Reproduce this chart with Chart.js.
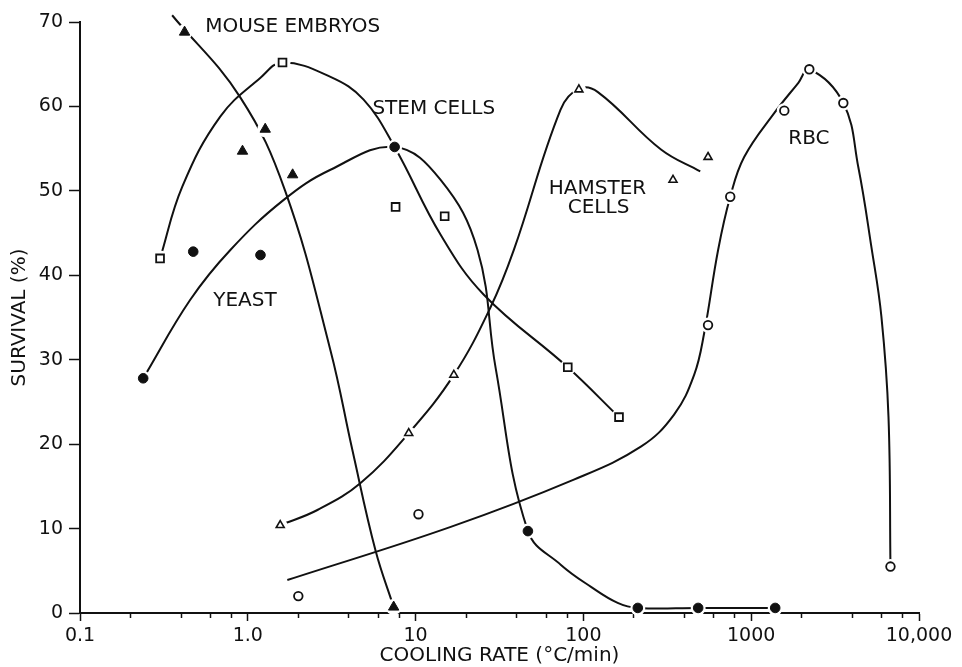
<!DOCTYPE html>
<html>
<head>
<meta charset="utf-8">
<title>Survival vs cooling rate</title>
<script src="https://cdn.jsdelivr.net/npm/chart.js@4.4.1/dist/chart.umd.min.js"></script>
<style>
  html, body { margin: 0; padding: 0; background: #fff; }
  #wrap { width: 962px; height: 667px; position: relative; }
</style>
</head>
<body>
<div id="wrap"><canvas id="chart"></canvas></div>
<script>
const INK = '#111';
const FONT = 'DejaVu Sans';

// axes
const xMajorTicks = [0.1, 1, 10, 100, 1000, 10000];
const xMajorLabels = ['0.1', '1.0', '10', '100', '1000', '10,000'];
const xMinorSteps = [2, 4, 6, 8];
const yTicks = [0, 10, 20, 30, 40, 50, 60, 70];

// measured points: cooling rate (°C/min) and survival (%)
const mouseRate = [0.42, 0.93, 1.27, 1.85, 7.4];
const mouseSurv = [68.8, 54.7, 57.3, 51.9, 0.7];

const stemRate = [0.30, 1.61, 7.6, 14.9, 80.7, 163];
const stemSurv = [42.0, 65.2, 48.1, 47.0, 29.1, 23.2];

const yeastRate = [0.238, 0.473, 1.19, 7.5, 46.7, 211, 483, 1390];
const yeastSurv = [27.8, 42.8, 42.4, 55.2, 9.7, 0.6, 0.6, 0.6];

const hamsterRate = [1.56, 9.1, 16.9, 94, 342, 553];
const hamsterSurv = [10.4, 21.3, 28.2, 62.0, 51.3, 54.0];

const rbcRate = [2.0, 10.4, 553, 750, 1575, 2220, 3540, 6760];
const rbcSurv = [2.0, 11.7, 34.1, 49.3, 59.5, 64.4, 60.4, 5.5];

// freehand curves drawn through each set
const mouseCurveRate = [0.354, 0.90, 1.67, 3.11, 4.2, 5.77, 7.4];
const mouseCurveSurv = [70.8, 61.1, 50.0, 31.1, 19.3, 7.4, 0.7];

const stemCurveRate = [0.30, 0.407, 0.685, 1.19, 1.61, 3.11, 4.9, 7.5, 14.1, 25.5, 80.7, 163];
const stemCurveSurv = [42.0, 50.5, 58.8, 63.4, 65.2, 63.5, 60.8, 55.2, 44.8, 37.7, 29.1, 23.2];

const yeastCurveRate = [0.238, 0.454, 0.787, 1.63, 3.11, 7.5, 14.1, 23.4, 30, 46.7, 73.5, 111, 160, 211, 483, 1390];
const yeastCurveSurv = [27.8, 37.1, 43.0, 48.9, 52.5, 55.2, 51.3, 43.0, 29.0, 9.7, 5.7, 3.1, 1.2, 0.6, 0.6, 0.6];

const hamsterCurveRate = [1.56, 2.6, 4.7, 9.1, 16.9, 28.1, 38.5, 73, 94, 122, 290, 497];
const hamsterCurveSurv = [10.4, 12.2, 15.4, 21.3, 28.2, 36.3, 43.0, 59.6, 62.1, 61.7, 54.9, 52.3];

const rbcCurveRate = [1.72, 16.2, 87.7, 220, 347, 457, 525, 635, 750, 908, 1371, 1910, 2220, 3540, 4350, 5200, 5970, 6580, 6760];
const rbcCurveSurv = [3.9, 10.2, 15.8, 19.7, 23.5, 28.2, 33.2, 43.0, 49.3, 54.0, 59.2, 62.8, 64.4, 60.4, 52.8, 43.4, 35.1, 23.2, 5.5];

// curve labels, placed in data units (left edge, middle of the capitals)
const notes = [
  { text: 'MOUSE EMBRYOS', rate: 0.557, surv: 69.6 },
  { text: 'STEM CELLS', rate: 5.53, surv: 59.9 },
  { text: 'YEAST', rate: 0.622, surv: 37.2 },
  { text: 'HAMSTER', rate: 62.2, surv: 50.5 },
  { text: 'CELLS', rate: 80.7, surv: 48.2 },
  { text: 'RBC', rate: 1663, surv: 56.4 }
];

const xTickValues = [];
xMajorTicks.forEach((v, i) => {
  xTickValues.push(v);
  if (i < xMajorTicks.length - 1) xMinorSteps.forEach(m => xTickValues.push(v * m));
});
const isMajor = v => xMajorTicks.indexOf(v) >= 0;

const toPoints = (xs, ys) => xs.map((x, i) => ({ x: x, y: ys[i] }));

function curve(xs, ys) {
  return {
    data: toPoints(xs, ys),
    showLine: true,
    borderColor: INK,
    borderWidth: 2,
    pointRadius: 0,
    pointHoverRadius: 0,
    tension: 0.4,
    capBezierPoints: false,
    clip: false,
    order: 3
  };
}

// white disc under each marker so the curves stop short of it
function halo(xs, ys, r) {
  return {
    data: toPoints(xs, ys),
    showLine: false,
    pointStyle: 'circle',
    pointRadius: r,
    pointHoverRadius: r,
    pointBackgroundColor: '#fff',
    pointBorderWidth: 0,
    clip: false,
    order: 2
  };
}

function marks(xs, ys, style, r, filled, bw) {
  return {
    data: toPoints(xs, ys),
    showLine: false,
    pointStyle: style,
    pointRadius: r,
    pointHoverRadius: r,
    pointBackgroundColor: filled ? INK : '#fff',
    pointBorderColor: INK,
    pointBorderWidth: bw,
    clip: false,
    order: 1
  };
}

const notesPlugin = {
  id: 'notes',
  afterDatasetsDraw(chart) {
    const { ctx } = chart;
    const x = chart.scales.x, y = chart.scales.y;
    ctx.save();
    ctx.font = '20px "' + FONT + '"';
    ctx.fillStyle = INK;
    ctx.textAlign = 'left';
    ctx.textBaseline = 'alphabetic';
    notes.forEach(n => {
      ctx.fillText(n.text, x.getPixelForValue(n.rate), y.getPixelForValue(n.surv) + 7);
    });
    ctx.restore();
  }
};

new Chart(document.getElementById('chart'), {
  type: 'scatter',
  data: {
    datasets: [
      curve(mouseCurveRate, mouseCurveSurv),
      curve(stemCurveRate, stemCurveSurv),
      curve(yeastCurveRate, yeastCurveSurv),
      curve(hamsterCurveRate, hamsterCurveSurv),
      curve(rbcCurveRate, rbcCurveSurv),
      halo(mouseRate, mouseSurv, 8),
      halo(stemRate, stemSurv, 8),
      halo(yeastRate, yeastSurv, 7.5),
      halo(hamsterRate, hamsterSurv, 7),
      halo(rbcRate, rbcSurv, 7.5),
      marks(mouseRate, mouseSurv, 'triangle', 6, true, 1),
      marks(stemRate, stemSurv, 'rect', 5.5, false, 1.8),
      marks(yeastRate, yeastSurv, 'circle', 4.8, true, 1),
      marks(hamsterRate, hamsterSurv, 'triangle', 4.6, false, 1.6),
      marks(rbcRate, rbcSurv, 'circle', 4.3, false, 1.8)
    ]
  },
  options: {
    responsive: true,
    maintainAspectRatio: false,
    devicePixelRatio: 1,
    animation: false,
    events: [],
    layout: { padding: { left: 0, right: 43, top: 22, bottom: 0 } },
    plugins: {
      legend: { display: false },
      tooltip: { enabled: false }
    },
    scales: {
      x: {
        type: 'logarithmic',
        min: 0.1,
        max: 10000,
        bounds: 'data',
        afterBuildTicks: scale => {
          scale.ticks = xTickValues.map(v => ({ value: v, major: isMajor(v) }));
        },
        afterFit: scale => { scale.height = 54; },
        ticks: {
          autoSkip: false,
          maxRotation: 0,
          padding: 4,
          color: INK,
          font: { family: FONT, size: 19 },
          callback: value => {
            const i = xMajorTicks.indexOf(value);
            return i >= 0 ? xMajorLabels[i] : '';
          }
        },
        grid: {
          drawOnChartArea: false,
          drawTicks: true,
          tickLength: 8,
          tickWidth: 1.5,
          tickColor: INK,
          tickBorderDash: ctx => (ctx.tick && isMajor(ctx.tick.value)) ? [] : [4, 40]
        },
        border: { display: true, color: INK, width: 2 },
        title: {
          display: true,
          text: 'COOLING RATE (°C/min)',
          color: INK,
          font: { family: FONT, size: 20, lineHeight: 1.1 },
          padding: { top: 0, bottom: 0 }
        }
      },
      y: {
        min: 0,
        max: 70,
        afterBuildTicks: scale => {
          scale.ticks = yTicks.map(v => ({ value: v }));
        },
        afterFit: scale => { scale.width = 80; },
        ticks: {
          padding: 6,
          color: INK,
          font: { family: FONT, size: 19 }
        },
        grid: {
          drawOnChartArea: false,
          drawTicks: true,
          tickLength: 11,
          tickWidth: 1.5,
          tickColor: INK
        },
        border: { display: true, color: INK, width: 2 },
        title: {
          display: true,
          text: 'SURVIVAL (%)',
          color: INK,
          font: { family: FONT, size: 20, lineHeight: 1.1 },
          padding: { top: 9, bottom: 0 }
        }
      }
    }
  },
  plugins: [notesPlugin]
});
</script>
</body>
</html>
